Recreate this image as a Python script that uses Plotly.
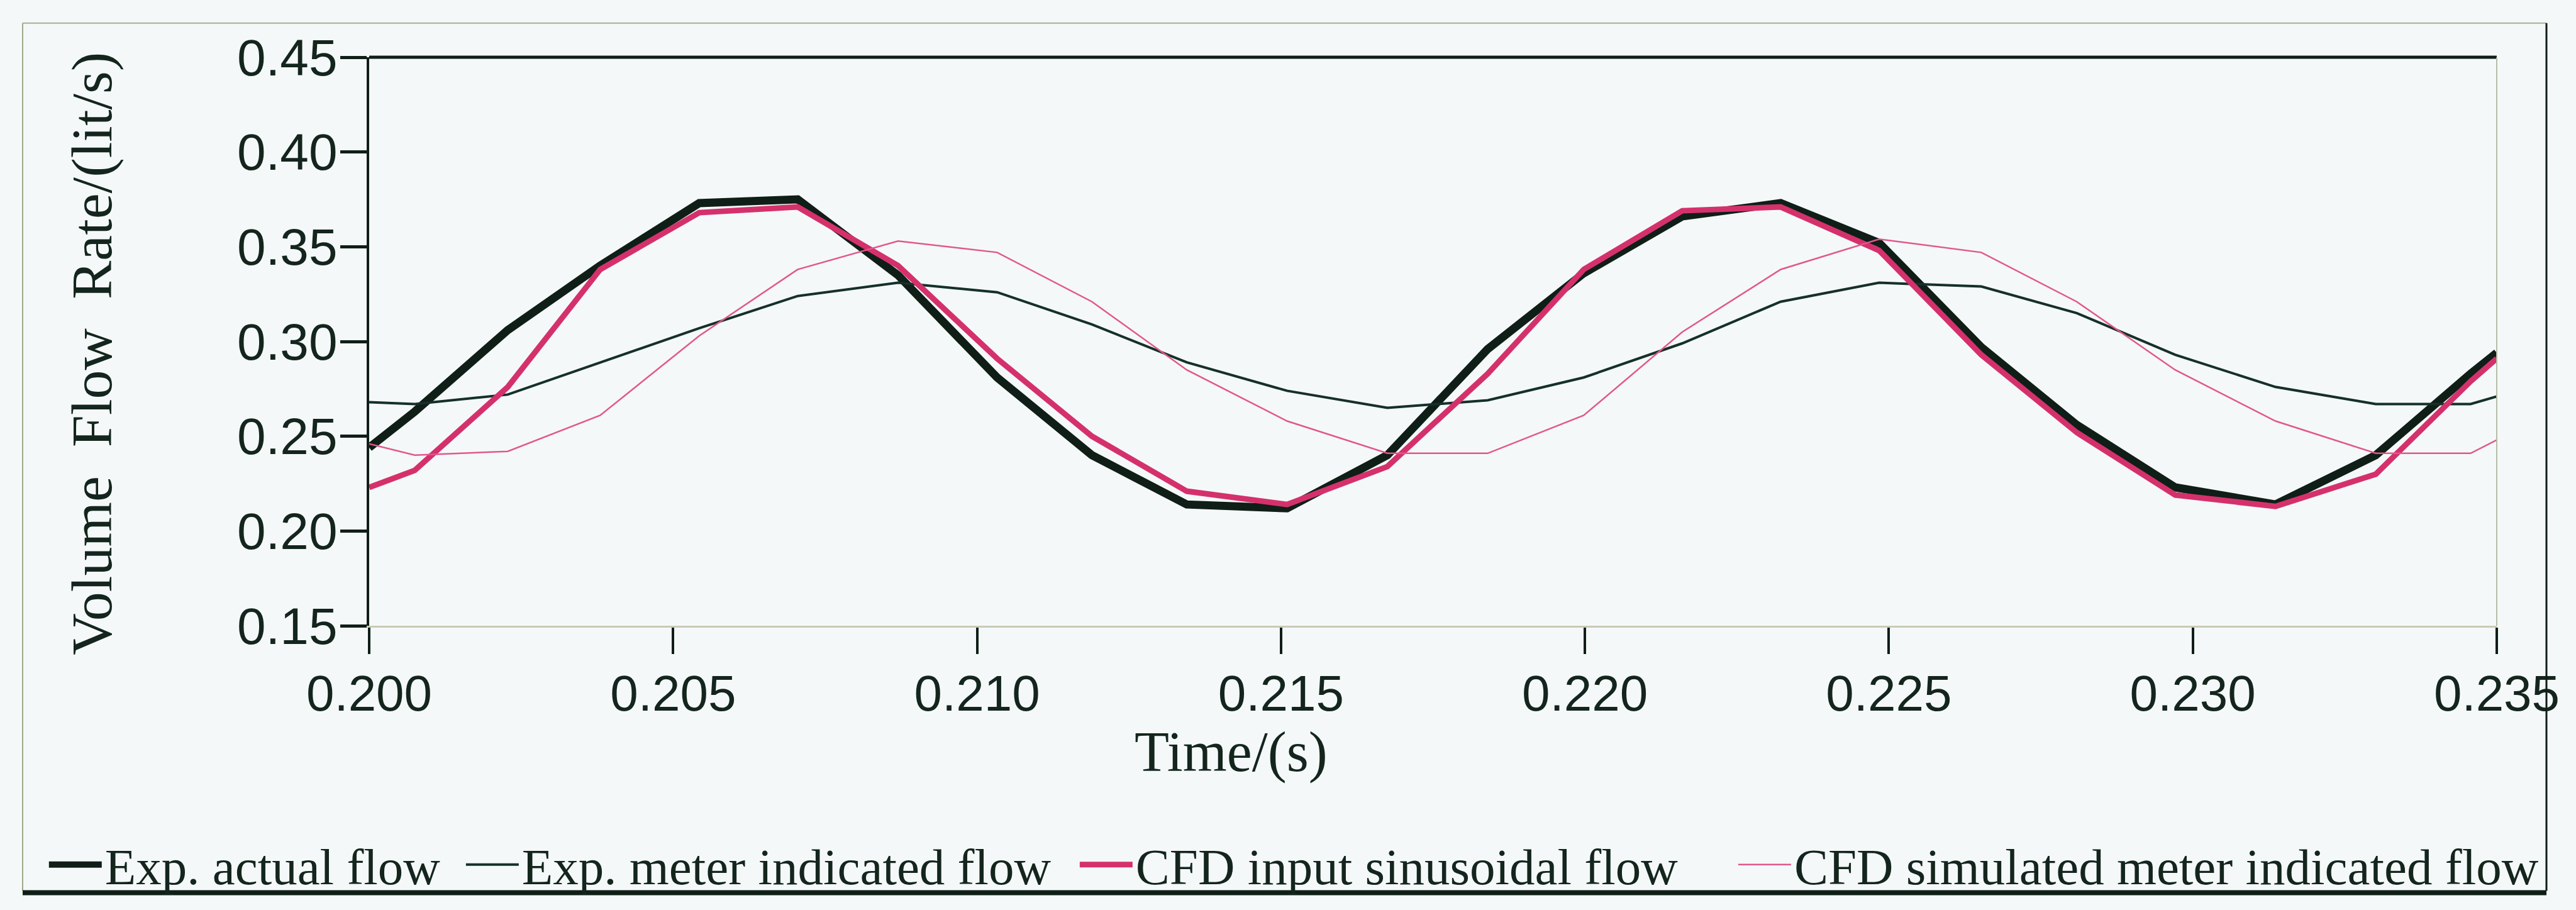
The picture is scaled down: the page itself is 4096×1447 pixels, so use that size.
import plotly.graph_objects as go

# ---- data ----
time_s = [0.2000, 0.20075, 0.20228, 0.20380, 0.20543, 0.20705, 0.20870, 0.21033,
          0.21189, 0.21345, 0.21510, 0.21675, 0.21840, 0.21998, 0.22160, 0.22322,
          0.22484, 0.22652, 0.22809, 0.22971, 0.23136, 0.23301, 0.23457, 0.23500]

exp_actual = [0.244, 0.263, 0.306, 0.340, 0.373, 0.375, 0.335, 0.281,
              0.240, 0.214, 0.212, 0.240, 0.296, 0.336, 0.366, 0.373,
              0.352, 0.297, 0.256, 0.223, 0.214, 0.240, 0.283, 0.294]

exp_meter = [0.268, 0.267, 0.272, 0.289, 0.307, 0.324, 0.331, 0.326,
             0.309, 0.289, 0.274, 0.265, 0.269, 0.281, 0.299, 0.321,
             0.331, 0.329, 0.315, 0.293, 0.276, 0.267, 0.267, 0.271]

cfd_input = [0.223, 0.232, 0.276, 0.338, 0.368, 0.371, 0.340, 0.291,
             0.250, 0.221, 0.214, 0.234, 0.283, 0.338, 0.369, 0.371,
             0.348, 0.293, 0.252, 0.219, 0.213, 0.230, 0.279, 0.291]

cfd_meter = [0.246, 0.240, 0.242, 0.261, 0.303, 0.338, 0.353, 0.347,
             0.321, 0.285, 0.258, 0.241, 0.241, 0.261, 0.305, 0.338,
             0.354, 0.347, 0.321, 0.285, 0.258, 0.241, 0.241, 0.248]

series_names = ["Exp. actual flow", "Exp. meter indicated flow",
                "CFD input sinusoidal flow", "CFD simulated meter indicated flow"]

x_ticks = [0.200, 0.205, 0.210, 0.215, 0.220, 0.225, 0.230, 0.235]
x_tick_text = ["0.200", "0.205", "0.210", "0.215", "0.220", "0.225", "0.230", "0.235"]
y_ticks = [0.15, 0.20, 0.25, 0.30, 0.35, 0.40, 0.45]
y_tick_text = ["0.15", "0.20", "0.25", "0.30", "0.35", "0.40", "0.45"]

# ---- styling ----
DARK = "#0f1e17"
DARK2 = "#15302a"
PINK = "#d4316c"
PINK2 = "#e0588c"
BG = "#f5f8f8"
TEXT = "#13251d"
SERIF = "Liberation Serif"
SANS = "Liberation Sans"

styles = [
    dict(color=DARK, width=13),
    dict(color=DARK2, width=4),
    dict(color=PINK, width=9),
    dict(color=PINK2, width=2.5),
]
values = [exp_actual, exp_meter, cfd_input, cfd_meter]
legend_ids = ["legend", "legend2", "legend3", "legend4"]
legend_x = [-0.1520, 0.0440, 0.3325, 0.6420]

fig = go.Figure()
for name, vals, st, lg in zip(series_names, values, styles, legend_ids):
    fig.add_trace(go.Scatter(x=time_s, y=vals, mode="lines", name=name,
                             line=dict(color=st["color"], width=st["width"]),
                             legend=lg, showlegend=True))

W, H = 4096, 1447
ml, mr, mt, mb = 587, 126, 91, 438
PW, PH = W - ml - mr, H - mt - mb


def px_x(px):
    return (px - ml) / PW


def px_y(py):
    return (H - mb - py) / PH


legend_common = dict(
    orientation="h", yanchor="middle", xanchor="left", y=-0.4205,
    bgcolor="rgba(0,0,0,0)", borderwidth=0, itemwidth=84,
    font=dict(family=SERIF, size=81, color=TEXT),
)
layout_legends = {}
for lg, lx in zip(legend_ids, legend_x):
    d = dict(legend_common)
    d["x"] = lx
    layout_legends[lg] = d

fig.update_layout(
    width=W, height=H,
    margin=dict(l=ml, r=mr, t=mt, b=mb, pad=0),
    paper_bgcolor=BG, plot_bgcolor=BG,
    **layout_legends,
    xaxis=dict(
        range=[0.200, 0.235], tickvals=x_ticks, ticktext=x_tick_text,
        showgrid=False, zeroline=False,
        showline=True, linecolor="#c9cab6", linewidth=3,
        ticks="outside", ticklen=42, tickwidth=4, tickcolor=DARK,
        ticklabelstandoff=-6,
        tickfont=dict(family=SANS, size=80, color=TEXT),
    ),
    yaxis=dict(
        range=[0.15, 0.45], tickvals=y_ticks, ticktext=y_tick_text,
        showgrid=False, zeroline=False,
        showline=True, linecolor=DARK, linewidth=4,
        ticks="outside", ticklen=42, tickwidth=5, tickcolor=DARK,
        ticklabelstandoff=-12,
        tickfont=dict(family=SANS, size=82, color=TEXT),
    ),
    annotations=[
        dict(text="Volume  Flow  Rate/(lit/s)", xref="paper", yref="paper",
             x=px_x(146), y=px_y(569),
             xanchor="center", yanchor="middle", textangle=-90, showarrow=False,
             font=dict(family=SERIF, size=92, color=TEXT)),
        dict(text="Time/(s)", xref="paper", yref="paper",
             x=px_x(1957), y=px_y(1213),
             xanchor="center", yanchor="middle", showarrow=False, borderpad=0,
             font=dict(family=SERIF, size=90, color=TEXT)),
    ],
    shapes=[
        # top and right borders of plotting area
        dict(type="line", xref="paper", yref="paper", x0=0, x1=1, y0=1, y1=1,
             line=dict(color=DARK, width=5)),
        dict(type="line", xref="paper", yref="paper", x0=1, x1=1, y0=0, y1=1,
             line=dict(color="#b7bca8", width=2)),
        # outer figure frame
        dict(type="line", xref="paper", yref="paper",
             x0=px_x(36), x1=px_x(36), y0=px_y(1437), y1=px_y(36),
             line=dict(color="#9fa88a", width=2)),
        dict(type="line", xref="paper", yref="paper",
             x0=px_x(36), x1=px_x(4049), y0=px_y(36), y1=px_y(36),
             line=dict(color="#aab094", width=2)),
        dict(type="line", xref="paper", yref="paper",
             x0=px_x(4049), x1=px_x(4049), y0=px_y(1437), y1=px_y(36),
             line=dict(color=DARK, width=3)),
        dict(type="line", xref="paper", yref="paper",
             x0=px_x(36), x1=px_x(4049), y0=px_y(1440), y1=px_y(1440),
             line=dict(color=DARK, width=8)),
    ],
)

fig.write_html("out.html")
